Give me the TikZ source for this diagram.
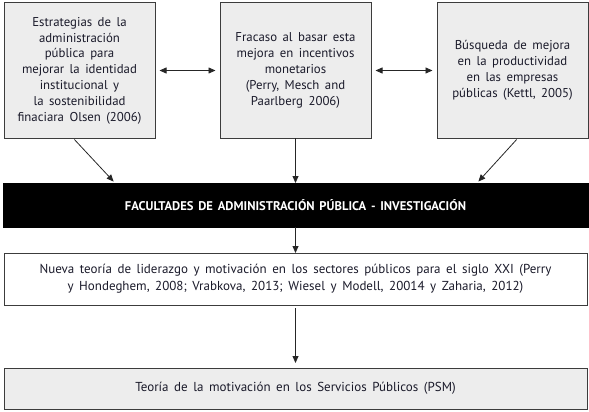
\documentclass[tikz,border=0pt]{standalone}
\usepackage{fontspec}
\setmainfont[WordSpace=1.6]{PT Sans}
\newfontfamily\barfont[WordSpace=1.5]{PT Sans}
\usetikzlibrary{arrows.meta,calc}
\definecolor{boxgray}{HTML}{EDEDED}
\definecolor{edgegray}{HTML}{3C3C3C}
\definecolor{txt}{HTML}{1A1A2A}
\tikzset{
  topbox/.style={draw=edgegray,fill=boxgray,line width=1pt,inner sep=0pt,outer sep=0pt,
    minimum width=151pt,minimum height=135pt,align=center,text=txt,
    font=\fontsize{12.8}{15.8}\selectfont},
  barbox/.style={draw=black,fill=black,inner sep=0pt,outer sep=0pt,
    minimum width=585pt,minimum height=44pt,text=white,
    font=\barfont\bfseries\fontsize{12.6}{14}\selectfont},
  widebox/.style={draw=edgegray,line width=0.8pt,inner sep=0pt,outer sep=0pt,
    minimum width=583pt,align=center,text=txt,
    font=\fontsize{13}{17}\selectfont},
  arr/.style={draw=black!85,line width=0.8pt,-{Triangle[length=7pt,width=6pt]}},
  darr/.style={draw=black!85,line width=0.8pt,{Triangle[length=7pt,width=6pt]}-{Triangle[length=7pt,width=6pt]}}
}
\begin{document}
\begin{tikzpicture}[x=1pt,y=1pt]
\useasboundingbox (0,0) rectangle (589,-412);
\node[topbox] (b1) at (79.5,-70.5) {Estrategias de la\\administración\\pública para\\mejorar la identidad\\institucional y\\la sostenibilidad\\finaciara Olsen (2006)};
\node[topbox] (b2) at (295.5,-70.5) {Fracaso al basar esta\\mejora en incentivos\\monetarios\\(Perry, Mesch and\\Paarlberg 2006)};
\node[topbox] (b3) at (512.5,-70.5) {Búsqueda de mejora\\en la productividad\\en las empresas\\públicas (Kettl, 2005)};
\node[barbox] (bar) at (295.5,-205) {FACULTADES DE ADMINISTRACIÓN PÚBLICA - INVESTIGACIÓN};
\node[widebox,minimum height=52pt] (wb) at (295.5,-279) {Nueva teoría de liderazgo y motivación en los sectores públicos para el siglo XXI (Perry\\y Hondeghem, 2008; Vrabkova, 2013; Wiesel y Modell, 20014 y Zaharia, 2012)};
\node[widebox,fill=boxgray,minimum height=41pt] (pb) at (295.5,-388.5) {Teoría de la motivación en los Servicios Públicos (PSM)};
\draw[darr,shorten <=4.5pt,shorten >=4.5pt] (b1.east) -- (b2.west);
\draw[darr,shorten <=4.5pt,shorten >=4.5pt] (b2.east) -- (b3.west);
\draw[arr,shorten <=2pt,shorten >=2pt] ([xshift=-6.5pt]b1.south) -- ([xshift=-180.5pt]bar.north);
\draw[arr] (b2.south) -- (bar.north);
\draw[arr,shorten <=2pt,shorten >=2pt] ([xshift=5.5pt]b3.south) -- ([xshift=181.5pt]bar.north);
\draw[arr] (bar.south) -- (wb.north);
\draw[arr,shorten <=3pt,shorten >=5pt] (wb.south) -- (pb.north);
\end{tikzpicture}
\end{document}
